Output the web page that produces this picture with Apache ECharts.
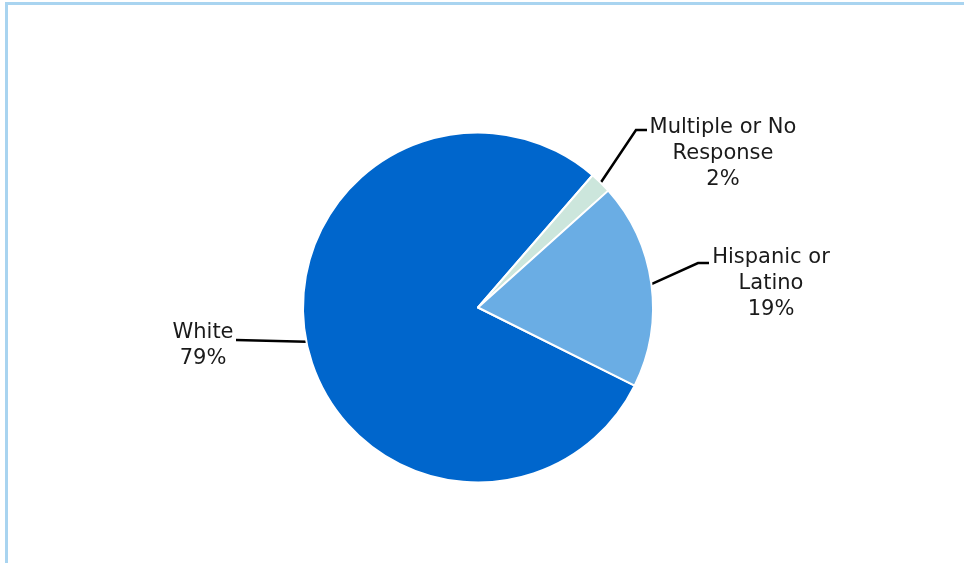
<!DOCTYPE html>
<html>
<head>
<meta charset="utf-8">
<script src="https://cdn.jsdelivr.net/npm/echarts@6/dist/echarts.min.js"></script>
<style>
  html, body { margin: 0; padding: 0; background: #ffffff; }
  #frame { position: absolute; left: 5px; top: 2px; width: 956px; height: 600px;
           border-left: 3px solid #A9D4F0; border-top: 3px solid #A9D4F0; border-right: 3px solid #A9D4F0; }
  #chart { position: absolute; left: 0; top: 0; width: 964px; height: 563px; }
</style>
</head>
<body>
<div id="frame"></div>
<div id="chart"></div>
<script>
// Data
const categories = ['White', 'Multiple or No\nResponse', 'Hispanic or\nLatino'];
const values = [79, 2, 19];
const colors = ['#0066CC', '#CCE6DC', '#6AADE4'];

// Label placement (anchor where the leader line meets the label)
const labelAnchors = [
  { x: 236, y: 340, align: 'right', len2: 0, shift: 7 },
  { x: 647, y: 130, align: 'left', len2: 11, shift: 2 },
  { x: 709, y: 263, align: 'left', len2: 11, shift: 5 }
];
const labelWidths = [66, 152, 124];

const chart = echarts.init(document.getElementById('chart'), null, { renderer: 'canvas' });

const LINE_H = 26;
const data = categories.map((name, i) => {
  const nLines = name.split('\n').length + 1;
  const padTop = (nLines - 1) * LINE_H - 2 * labelAnchors[i].shift;
  return {
    name: name,
    value: values[i],
    itemStyle: { color: colors[i] },
    label: {
      padding: [padTop, 0, 0, 0],
      rich: { a: { width: labelWidths[i], align: 'center', fontSize: 21, lineHeight: LINE_H,
                   fontFamily: 'DejaVu Sans', color: '#1a1a1a' } }
    }
  };
});

chart.setOption({
  animation: false,
  backgroundColor: 'transparent',
  series: [{
    type: 'pie',
    center: [478, 307.5],
    radius: 175,
    startAngle: -26.5,
    clockwise: true,
    avoidLabelOverlap: false,
    emphasis: { disabled: true },
    itemStyle: { borderColor: '#ffffff', borderWidth: 2 },
    label: {
      show: true,
      position: 'outside',
      formatter: function (p) {
        return p.name.split('\n').concat(p.value + '%').map(s => '{a|' + s + '}').join('\n');
      }
    },
    labelLine: { show: true, length: 20, length2: 10, lineStyle: { color: '#000000', width: 2.5 } },
    labelLayout: function (params) {
      const a = labelAnchors[params.dataIndex];
      const out = { x: a.x, y: a.y, align: a.align, verticalAlign: 'middle' };
      const pts = params.labelLinePoints;
      if (pts && pts.length) {
        const start = pts[0];
        const dir = a.align === 'left' ? -1 : 1;
        const mid = [a.x + dir * a.len2, a.y];
        out.labelLinePoints = a.len2 > 0 ? [start, mid, [a.x, a.y]] : [start, [a.x, a.y], [a.x, a.y]];
      }
      return out;
    },
    data: data
  }]
});
</script>
</body>
</html>
